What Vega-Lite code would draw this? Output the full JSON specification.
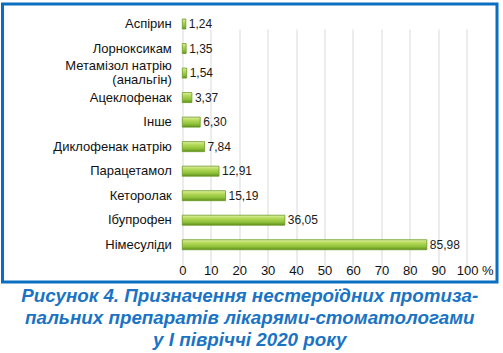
{
  "$schema": "https://vega.github.io/schema/vega-lite/v6.json",
  "width": 494.5,
  "height": 278,
  "autosize": "none",
  "padding": {"left": 2.5, "top": 4, "right": 6, "bottom": 71},
  "background": "white",
  "config": {
    "locale": {"number": {"decimal": ",", "thousands": " ", "grouping": [3], "currency": ["", ""]}},
    "view": {"stroke": "#0a6fc0", "strokeWidth": 3},
    "font": "Liberation Sans"
  },
  "title": {
    "text": ["Рисунок 4. Призначення нестероїдних протиза-", "пальних препаратів лікарями-стоматологами", "у І півріччі 2020 року"],
    "orient": "bottom",
    "anchor": "middle",
    "font": "Liberation Sans",
    "fontSize": 18.8,
    "fontWeight": "bold",
    "fontStyle": "italic",
    "color": "#1a73c4",
    "lineHeight": 22,
    "offset": 5
  },
  "data": {
    "values": [
      {"drug": "Аспірин", "share": 1.24},
      {"drug": "Лорноксикам", "share": 1.35},
      {"drug": "Метамізол натрію (анальгін)", "share": 1.54},
      {"drug": "Ацеклофенак", "share": 3.37},
      {"drug": "Інше", "share": 6.30},
      {"drug": "Диклофенак натрію", "share": 7.84},
      {"drug": "Парацетамол", "share": 12.91},
      {"drug": "Кеторолак", "share": 15.19},
      {"drug": "Ібупрофен", "share": 36.05},
      {"drug": "Німесуліди", "share": 85.98}
    ]
  },
  "encoding": {
    "y": {
      "field": "drug",
      "type": "nominal",
      "sort": {"field": "share", "order": "ascending"},
      "scale": {"range": [7.75, 253], "paddingInner": 0.58, "paddingOuter": 0.29},
      "axis": {
        "title": null,
        "offset": -179.8,
        "domain": false,
        "ticks": false,
        "grid": false,
        "labelPadding": 11,
        "labelFontSize": 13,
        "labelColor": "#111111",
        "labelLimit": 0,
        "labelLineHeight": 14,
        "labelOffset": {"condition": {"test": "datum.value == 'Метамізол натрію (анальгін)'", "value": -7}, "value": 0},
        "labelExpr": "datum.label == 'Метамізол натрію (анальгін)' ? ['Метамізол натрію', '(анальгін)'] : datum.label"
      }
    },
    "x": {
      "field": "share",
      "type": "quantitative",
      "scale": {"domain": [0, 100], "range": [179.8, 464.2]},
      "axis": {
        "title": null,
        "orient": "bottom",
        "offset": -19,
        "domain": false,
        "ticks": false,
        "values": [0, 10, 20, 30, 40, 50, 60, 70, 80, 90, 100],
        "labelFontSize": 13,
        "labelPadding": 1,
        "labelColor": "#111111",
        "labelFlush": false,
        "labelOverlap": false,
        "labelExpr": "datum.value == 100 ? '100 %' : datum.label",
        "labelOffset": {"condition": {"test": "datum.value == 100", "value": 8}, "value": 0},
        "grid": true,
        "gridColor": "#d9d9d9",
        "gridWidth": 1
      }
    }
  },
  "layer": [
    {
      "mark": {
        "type": "bar",
        "size": 10,
        "fill": {
          "gradient": "linear",
          "x1": 0, "y1": 0, "x2": 0, "y2": 1,
          "stops": [
            {"offset": 0, "color": "#e2f1a6"},
            {"offset": 0.3, "color": "#b5da5a"},
            {"offset": 0.7, "color": "#8fc13a"},
            {"offset": 1, "color": "#5f8f1c"}
          ]
        },
        "stroke": "#6b9a26",
        "strokeWidth": 0.8
      }
    },
    {
      "mark": {"type": "text", "align": "left", "dx": 3, "fontSize": 12, "color": "#1a1a1a"},
      "encoding": {"text": {"field": "share", "format": ".2f"}}
    }
  ]
}
